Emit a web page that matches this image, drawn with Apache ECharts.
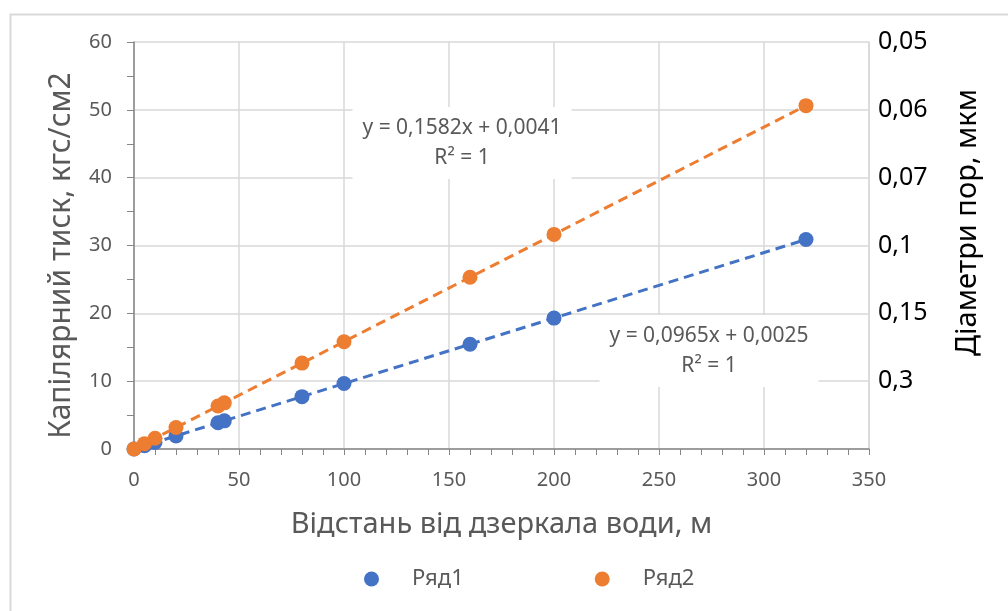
<!DOCTYPE html>
<html><head><meta charset="utf-8">
<script src="https://cdn.jsdelivr.net/npm/echarts@6/dist/echarts.min.js"></script>
<style>html,body{margin:0;padding:0;background:#fff}#c{width:1008px;height:611px}</style>
</head><body><div id="c"></div>
<script>
// Data
const xDist = [0, 5, 10, 20, 40, 43, 80, 100, 160, 200, 320];
const ryad1 = [0, 0.48, 0.97, 1.93, 3.86, 4.15, 7.72, 9.65, 15.44, 19.3, 30.88];
const ryad2 = [0, 0.79, 1.58, 3.16, 6.33, 6.8, 12.66, 15.82, 25.31, 31.64, 50.62];
const trend1X = [0, 320];
const trend1Y = [0.0025, 30.88];
const trend2X = [0, 320];
const trend2Y = [0.0041, 50.63];
const rightTickValues = [0, 10, 20, 30, 40, 50, 60];
const rightTickLabels = ['', '0,3', '0,15', '0,1', '0,07', '0,06', '0,05'];
const eq1 = ['y = 0,0965x + 0,0025', 'R² = 1'];
const eq2 = ['y = 0,1582x + 0,0041', 'R² = 1'];
const seriesNames = ['Ряд1', 'Ряд2'];

const FONT = '"Noto Sans", "Open Sans", sans-serif';
const BLUE = '#4472C4', ORANGE = '#ED7D31', GREY = '#595959', GRID = '#d9d9d9';

const zip = (xs, ys) => xs.map((x, i) => [x, ys[i]]);

const chart = echarts.init(document.getElementById('c'), null, {renderer: 'canvas'});
chart.setOption({
  backgroundColor: '#fff',
  animation: false,
  textStyle: {fontFamily: FONT},
  grid: {left: 134, right: 139, top: 42, bottom: 162},
  legend: {
    data: seriesNames,
    top: 563, left: 359,
    icon: 'circle', itemWidth: 15, itemHeight: 15, itemGap: 131,
    textStyle: {color: GREY, fontSize: 22, fontFamily: FONT, padding: [0, 0, 0, 28]}
  },
  xAxis: {
    type: 'value', min: 0, max: 350, interval: 50,
    name: 'Відстань від дзеркала води, м', nameLocation: 'middle', nameGap: 61,
    nameTextStyle: {color: GREY, fontSize: 29, fontFamily: FONT},
    axisLine: {show: true, lineStyle: {color: '#868686', width: 1.5}},
    axisTick: {show: true, inside: false, length: 6, lineStyle: {color: '#868686'}},
    minorTick: {show: true, splitNumber: 5, length: 6, lineStyle: {color: '#868686'}},
    axisLabel: {color: GREY, fontSize: 20, margin: 21, fontFamily: FONT},
    splitLine: {show: true, lineStyle: {color: GRID, width: 1.5}}
  },
  yAxis: [{
    type: 'value', min: 0, max: 60, interval: 10, position: 'left',
    name: 'Капілярний тиск, кгс/см2', nameLocation: 'middle', nameGap: 58, nameRotate: 90,
    nameTextStyle: {color: GREY, fontSize: 30, fontFamily: FONT, padding: [0, 20, 0, 0]},
    axisLine: {show: true, lineStyle: {color: '#868686', width: 1.5}},
    axisTick: {show: true, inside: false, length: 7, lineStyle: {color: '#868686'}},
    minorTick: {show: true, splitNumber: 2, length: 7, lineStyle: {color: '#868686'}},
    axisLabel: {color: GREY, fontSize: 20, margin: 22, fontFamily: FONT},
    splitLine: {show: true, lineStyle: {color: GRID, width: 1.5}}
  }, {
    type: 'value', min: 0, max: 60, interval: 10, position: 'right',
    name: 'Діаметри пор, мкм', nameLocation: 'middle', nameGap: 84, nameRotate: 90,
    nameTextStyle: {color: '#000', fontSize: 29, fontFamily: FONT, padding: [0, 0, 0, 46]},
    axisLine: {show: true, lineStyle: {color: GRID, width: 1.5}},
    axisTick: {show: false},
    axisLabel: {
      color: '#000', fontSize: 25, margin: 9, fontFamily: FONT,
      formatter: v => { const i = rightTickValues.indexOf(v); return i >= 0 ? rightTickLabels[i] : ''; }
    },
    splitLine: {show: false}
  }],
  series: [
    {name: 'trend1', type: 'line', data: zip(trend1X, trend1Y), symbol: 'none', silent: true,
     lineStyle: {color: BLUE, width: 3, type: [10, 6]}, z: 2},
    {name: 'trend2', type: 'line', data: zip(trend2X, trend2Y), symbol: 'none', silent: true,
     lineStyle: {color: ORANGE, width: 3, type: [10, 6]}, z: 2},
    {name: seriesNames[0], type: 'scatter', data: zip(xDist, ryad1), symbol: 'circle', symbolSize: 15,
     itemStyle: {color: BLUE, opacity: 1}, z: 3},
    {name: seriesNames[1], type: 'scatter', data: zip(xDist, ryad2), symbol: 'circle', symbolSize: 15,
     itemStyle: {color: ORANGE, opacity: 1}, z: 4}
  ],
  graphic: [
    {type: 'rect', left: 8, top: 12, shape: {width: 1020, height: 620}, silent: true, z: -10,
     style: {fill: 'none', stroke: '#d9d9d9', lineWidth: 2}},
    {type: 'text', x: 462, y: 143, z: 100,
     style: {text: eq2.join('\n'), fill: GREY, font: '21px ' + FONT, align: 'center', verticalAlign: 'middle',
       lineHeight: 30, backgroundColor: '#fff', padding: [6, 10]}},
    {type: 'text', x: 709, y: 351, z: 100,
     style: {text: eq1.join('\n'), fill: GREY, font: '21px ' + FONT, align: 'center', verticalAlign: 'middle',
       lineHeight: 30, backgroundColor: '#fff', padding: [6, 10]}}
  ]
});
</script></body></html>
